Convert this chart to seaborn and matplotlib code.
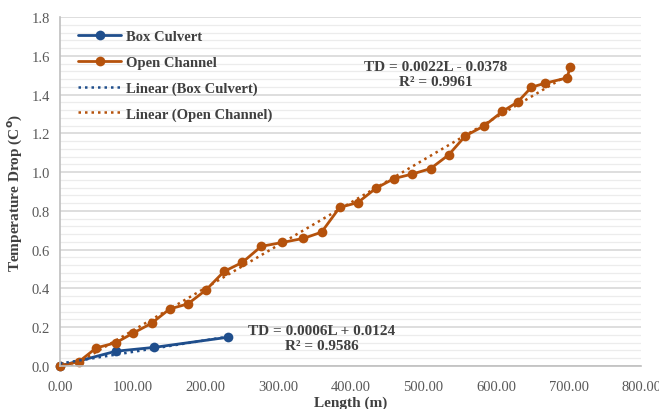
import numpy as np
import pandas as pd
import matplotlib.pyplot as plt
import seaborn as sns
from matplotlib.lines import Line2D
from matplotlib.ticker import MultipleLocator, FormatStrFormatter

sns.set_theme(style="white")
plt.rcParams["font.family"] = ["Liberation Serif", "DejaVu Serif"]

# data
box_length = [0, 77, 130, 231]
box_drop = [0.0, 0.076, 0.096, 0.148]

open_length = [0, 26, 50, 77, 101, 126, 151, 176, 201, 226, 251, 277, 306, 335,
               360, 385, 410, 435, 460, 485, 510, 535, 558, 584, 609, 630, 649,
               668, 698, 702]
open_drop = [0.0, 0.022, 0.093, 0.12, 0.17, 0.22, 0.294, 0.32, 0.392, 0.488,
             0.534, 0.617, 0.637, 0.658, 0.69, 0.818, 0.843, 0.917, 0.967, 0.99,
             1.018, 1.089, 1.187, 1.239, 1.313, 1.362, 1.438, 1.459, 1.486, 1.54]

# trendline coefficients (slope, intercept, R^2)
box_fit = (0.0006, 0.0124, 0.9586)
open_fit = (0.0022, -0.0378, 0.9961)

blue = "#1f4e8c"
orange = "#b5520c"
text_col = "#404040"

df = pd.concat([
    pd.DataFrame({"Length": box_length, "Drop": box_drop, "Series": "Box Culvert"}),
    pd.DataFrame({"Length": open_length, "Drop": open_drop, "Series": "Open Channel"}),
])

fig = plt.figure(figsize=(6.59, 4.10), dpi=100)
ax = fig.add_axes([0.091, 0.105, 0.882, 0.851])

# gridlines
ax.yaxis.set_major_locator(MultipleLocator(0.2))
ax.yaxis.set_minor_locator(MultipleLocator(0.04))
ax.grid(which="major", axis="y", color="#d4d4d4", linewidth=1.1)
ax.grid(which="minor", axis="y", color="#ececec", linewidth=0.9)
ax.set_axisbelow(True)

sns.lineplot(data=df, x="Length", y="Drop", hue="Series",
             palette={"Box Culvert": blue, "Open Channel": orange},
             marker="o", markersize=7, markeredgewidth=0, linewidth=2,
             sort=False, estimator=None, legend=False, clip_on=False, ax=ax)

# linear trendlines
dot = (0, (1, 1.6))
for xs, fit, col in [(box_length, box_fit, blue), (open_length, open_fit, orange)]:
    xx = np.array([min(xs), max(xs)])
    sns.lineplot(x=xx, y=fit[0] * xx + fit[1], color=col, linewidth=1.8,
                 linestyle=dot, ax=ax, legend=False)

ax.set_xlim(0, 800)
ax.set_ylim(0, 1.8)
ax.xaxis.set_major_locator(MultipleLocator(100))
ax.xaxis.set_major_formatter(FormatStrFormatter("%.2f"))
ax.yaxis.set_major_formatter(FormatStrFormatter("%.1f"))

for side in ["top", "right"]:
    ax.spines[side].set_visible(False)
for side in ["left", "bottom"]:
    ax.spines[side].set_color("#bfbfbf")
    ax.spines[side].set_linewidth(1.2)
ax.tick_params(axis="both", which="major", direction="out", length=4,
               color="#bfbfbf", labelsize=10.5, labelcolor="#595959", pad=3)
ax.tick_params(axis="y", which="minor", length=0)
ax.tick_params(axis="x", pad=6)

ax.set_xlabel("Length (m)", fontsize=11, fontweight="bold", color=text_col, labelpad=2)
ax.set_ylabel(r"Temperature Drop (C$^\mathbf{o}$)", fontsize=11, fontweight="bold",
              color=text_col, labelpad=6)

def eq(fit):
    sign = "+" if fit[1] >= 0 else "-"
    return f"TD = {fit[0]:.4f}L {sign} {abs(fit[1]):.4f}\nR² = {fit[2]:.4f}"

ax.text(517, 1.505, eq(open_fit), ha="center", va="center", fontsize=11,
        fontweight="bold", color=text_col, linespacing=1.15)
ax.text(360, 0.145, eq(box_fit), ha="center", va="center", fontsize=11,
        fontweight="bold", color=text_col, linespacing=1.15)

handles = [
    Line2D([], [], color=blue, linewidth=2, marker="o", markersize=7, markeredgewidth=0),
    Line2D([], [], color=orange, linewidth=2, marker="o", markersize=7, markeredgewidth=0),
    Line2D([], [], color=blue, linewidth=1.8, linestyle=dot),
    Line2D([], [], color=orange, linewidth=1.8, linestyle=dot),
]
labels = ["Box Culvert", "Open Channel", "Linear (Box Culvert)", "Linear (Open Channel)"]
leg = ax.legend(handles, labels, loc="upper left", bbox_to_anchor=(0.008, 1.0),
                frameon=False, handlelength=3.0, handletextpad=0.3,
                labelspacing=0.85, prop={"weight": "bold", "size": 10.5})
for t in leg.get_texts():
    t.set_color(text_col)

fig.savefig("out.png", dpi=100)
